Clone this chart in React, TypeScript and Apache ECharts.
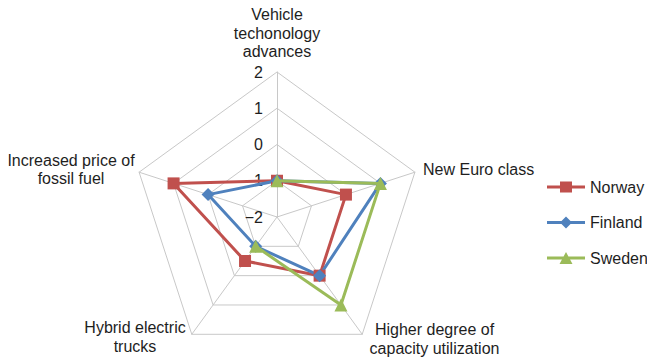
import React, { useEffect, useRef } from "react";
import * as echarts from "echarts";

// ---- data ----
const indicatorNames = [
  "Vehicle\ntechonology\nadvances",
  "Increased price of\nfossil fuel",
  "Hybrid electric\ntrucks",
  "Higher degree of\ncapacity utilization",
  "New Euro class",
];
const tickValues = [-2, -1, 0, 1, 2];
const seriesNames = ["Norway", "Finland", "Sweden"];
const norwayValues = [-1, 1, -0.5, 0, 0];
const finlandValues = [-1, 0, -1, 0, 1];
const swedenValues: (number | null)[] = [-1, null, -1, 1, 1];

// ---- styles ----
const FONT = "'Liberation Sans', Arial, sans-serif";
const TEXT_COLOR = "#1e1e1e";
const GRID_COLOR = "#c8c8c8";
const colors = ["#C0504D", "#4F81BD", "#9BBB59"];
const CENTER: [number, number] = [277, 217];
const RADIUS = 145;

const legendIcons = [
  "path://M0,4.5H13V0.5H25V4.5H38V7.5H25V11.5H13V7.5H0Z",
  "path://M0,4.5H14.5L19,0L23.5,4.5H38V7.5H23.5L19,12L14.5,7.5H0Z",
  "path://M0,4.5H16.56L19,0L21.44,4.5H38V7.5H23.06L25.5,12H12.5L14.94,7.5H0Z",
];

// label block placement (layout only)
const nameLayout = [
  { x: 277, y: 5.2, align: "center" },
  { x: 71, y: 150.9, align: "center" },
  { x: 135, y: 318.5, align: "center" },
  { x: 434.5, y: 320.2, align: "center" },
  { x: 423, y: 160.2, align: "left" },
];

export default function App() {
  const ref = useRef<HTMLDivElement>(null);

  useEffect(() => {
    if (!ref.current) return;
    const chart = echarts.init(ref.current, undefined, { renderer: "svg" });

    const minV = tickValues[0];
    const maxV = tickValues[tickValues.length - 1];
    const fmt = (v: number) => (v < 0 ? "\u2212" + Math.abs(v) : String(v));

    // polar order for Sweden so that the gap falls on the missing value
    const n = indicatorNames.length;
    const startIdx = 2;
    const order = Array.from({ length: n }, (_, k) => (startIdx + k) % n);

    const option: any = {
      animation: false,
      color: colors,
      textStyle: { fontFamily: FONT },
      legend: {
        orient: "vertical",
        left: 547,
        top: 179,
        padding: 0,
        itemWidth: 38,
        itemHeight: 12,
        itemGap: 19.5,
        textStyle: { fontSize: 16, color: TEXT_COLOR, fontFamily: FONT },
        data: seriesNames.map((name, i) => ({
          name,
          icon: legendIcons[i],
          itemStyle: { color: colors[i] },
        })),
      },
      radar: {
        center: CENTER,
        radius: RADIUS,
        startAngle: 90,
        shape: "polygon",
        splitNumber: tickValues.length - 1,
        axisName: { show: false },
        axisLine: { lineStyle: { color: GRID_COLOR, width: 1 } },
        splitLine: { lineStyle: { color: GRID_COLOR, width: 1 } },
        splitArea: { show: false },
        axisTick: { show: false },
        axisLabel: { show: false },
        indicator: indicatorNames.map((name, i) => ({
          name,
          min: minV,
          max: maxV,
          ...(i === 0
            ? {
                axisLabel: {
                  show: true,
                  fontSize: 16,
                  color: TEXT_COLOR,
                  fontFamily: FONT,
                  margin: 14,
                  formatter: fmt,
                },
              }
            : {}),
        })),
      },
      polar: { center: CENTER, radius: RADIUS },
      angleAxis: {
        type: "category",
        data: order.map((i) => indicatorNames[i]),
        startAngle: 90 + startIdx * (360 / n),
        clockwise: false,
        boundaryGap: false,
        show: false,
        axisLine: { show: false },
        axisLabel: { show: false },
        axisTick: { show: false },
        splitLine: { show: false },
      },
      radiusAxis: {
        type: "value",
        min: minV,
        max: maxV,
        show: false,
        axisLine: { show: false },
        axisLabel: { show: false },
        axisTick: { show: false },
        splitLine: { show: false },
      },
      series: [
        {
          type: "radar",
          name: seriesNames[0],
          symbol: "rect",
          symbolSize: 12,
          data: [
            {
              name: seriesNames[0],
              value: norwayValues,
              itemStyle: { color: colors[0] },
              lineStyle: { color: colors[0], width: 3 },
            },
          ],
        },
        {
          type: "radar",
          name: seriesNames[1],
          symbol: "diamond",
          symbolSize: 13,
          data: [
            {
              name: seriesNames[1],
              value: finlandValues,
              itemStyle: { color: colors[1] },
              lineStyle: { color: colors[1], width: 3 },
            },
          ],
        },
        {
          type: "line",
          name: seriesNames[2],
          coordinateSystem: "polar",
          symbol: "triangle",
          symbolSize: 13,
          connectNulls: false,
          itemStyle: { color: colors[2] },
          lineStyle: { color: colors[2], width: 3 },
          data: order.map((i) => (swedenValues[i] === null ? "-" : swedenValues[i])),
          z: 3,
        },
      ],
      graphic: indicatorNames.map((name, i) => ({
        type: "text",
        x: nameLayout[i].x,
        y: nameLayout[i].y,
        style: {
          text: name,
          fontSize: 16,
          fontFamily: FONT,
          fill: TEXT_COLOR,
          lineHeight: 18.6,
          align: nameLayout[i].align,
          verticalAlign: "top",
        },
      })),
    };

    chart.setOption(option);
    return () => chart.dispose();
  }, []);

  return (
    <div
      ref={ref}
      style={{ position: "fixed", left: 0, top: 0, width: 647, height: 357, background: "#fff" }}
    />
  );
}
